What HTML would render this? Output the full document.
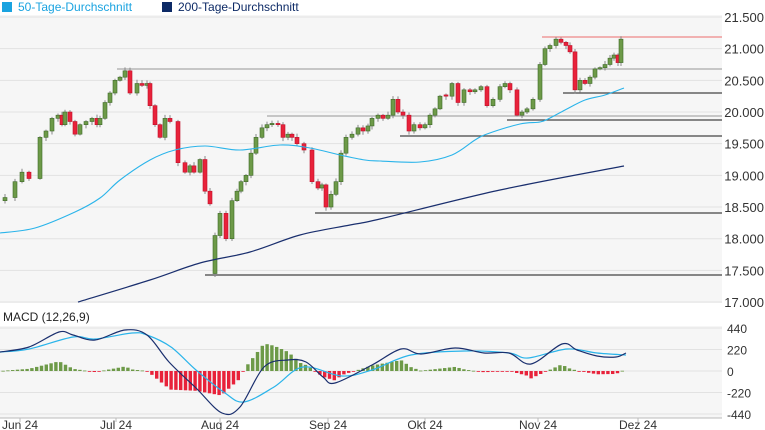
<!DOCTYPE html>
<html><head><meta charset="utf-8"><style>
body{margin:0;background:#fff;font-family:"Liberation Sans",sans-serif}
svg{display:block}
text{font-family:"Liberation Sans",sans-serif}
</style></head><body>
<svg id="s" width="765" height="430" xmlns="http://www.w3.org/2000/svg"></svg>
<script>
const S=document.getElementById('s');let h='';
const Y=v=>17+(21500-v)/500*31.67;
h+='<rect x="0" y="15" width="722" height="288" fill="#f6f6f6"/>';
h+='<rect x="0" y="326" width="722" height="92" fill="#f6f6f6"/>';
for(let v=17000;v<=21500;v+=500){const y=Y(v);h+=`<line x1="0" x2="722" y1="${y}" y2="${y}" stroke="#e2e2e2"/>`;
h+=`<text x="764" y="${y+5}" font-size="13" fill="#333" text-anchor="end">${(v/1000).toFixed(3)}</text>`;}
h+='<rect x="2" y="2" width="10" height="10" fill="#1aa3e0"/><text x="18" y="11" font-size="12" fill="#1aa3e0">50-Tage-Durchschnitt</text>';
h+='<rect x="162" y="2" width="10" height="10" fill="#0d2a66"/><text x="178" y="11" font-size="12" fill="#0d2a66">200-Tage-Durchschnitt</text>';
[[117,69,'#aaa'],[267,116,'#aaa'],[315,213,'#444'],[205,275,'#444'],[563,93,'#444'],[507,120,'#444'],[400,136,'#444'],[542,37,'#e88']].forEach(a=>h+=`<line x1="${a[0]}" x2="722" y1="${a[1]}" y2="${a[1]}" stroke="${a[2]}" stroke-width="1.2"/>`);
const pts=[[5,18.65],[15,18.9],[22,19.05],[29,18.95],[40,19.6],[46,19.7],[52,19.9],[58,19.95],[62,19.8],[65,20.0],[70,19.85],[75,19.65],[80,19.8],[86,19.85],[92,19.9],[97,19.8],[100,19.9],[105,20.15],[110,20.3],[115,20.5],[120,20.55],[125,20.65],[130,20.3],[137,20.45],[142,20.42],[147,20.45],[150,20.1],[155,19.8],[160,19.6],[165,19.9],[170,19.85],[178,19.2],[185,19.05],[190,19.15],[194,19.05],[200,19.25],[205,18.75],[210,18.55],[215,18.05,17.45],[220,18.4],[226,18.0],[232,18.6],[237,18.75],[241,18.9],[246,19.0],[251,19.35],[256,19.6],[262,19.75],[267,19.8],[272,19.82],[278,19.8],[283,19.6],[288,19.65],[292,19.6],[297,19.5],[304,19.4],[312,18.9],[318,18.8],[322,18.85],[326,18.5],[331,18.7],[336,18.9],[341,19.35],[346,19.6],[352,19.65],[358,19.75],[363,19.7],[368,19.78],[372,19.9],[378,19.95],[383,19.9],[388,19.95],[393,20.2],[398,20.0],[403,19.95],[409,19.7],[414,19.8],[420,19.75],[425,19.8],[430,19.95],[435,20.05],[440,20.25],[446,20.25],[452,20.45],[458,20.15],[464,20.35],[470,20.32],[475,20.35],[481,20.4],[487,20.1],[493,20.2],[500,20.4],[505,20.45],[510,20.35],[517,19.95],[522,20.0],[527,20.05],[533,20.2],[540,20.75],[545,21.0],[550,21.05],[556,21.15],[561,21.1],[566,21.05],[570,20.95],[575,20.35],[580,20.5],[585,20.45],[590,20.55],[595,20.68],[600,20.7],[605,20.75],[610,20.85],[614,20.9],[618,20.78],[621,21.15]];
let prev=18.6;
pts.forEach(([x,c,op])=>{c*=1000;let o=(op||prev)*1000;if(Math.abs(c-o)<15)o=c+20;const up=c>=o;const hi=Math.max(o,c)+20+((x*7)%40),lo=Math.min(o,c)-20-((x*13)%40);
h+=`<line x1="${x}" x2="${x}" y1="${Y(hi)}" y2="${Y(lo)}" stroke="#888" stroke-width="1"/>`;
const t=Y(Math.max(o,c)),b=Y(Math.min(o,c));
h+=`<rect x="${x-2}" y="${t}" width="4" height="${Math.max(1,b-t)}" fill="${up?'#6d9a48':'#e8223a'}" stroke="${up?'#3f6a2a':'#c0102a'}" stroke-width="0.6"/>`;prev=c/1000;});
const pl=(a,c,w)=>{let d=`M${a[0][0]},${a[0][1]}`;for(let i=0;i<a.length-1;i++){const p0=a[Math.max(0,i-1)],p1=a[i],p2=a[i+1],p3=a[Math.min(a.length-1,i+2)];
d+=` C${p1[0]+(p2[0]-p0[0])/6},${p1[1]+(p2[1]-p0[1])/6} ${p2[0]-(p3[0]-p1[0])/6},${p2[1]-(p3[1]-p1[1])/6} ${p2[0]},${p2[1]}`;}
h+=`<path fill="none" stroke="${c}" stroke-width="${w}" d="${d}"/>`;};
pl([[0,233],[35,228],[75,212],[100,198],[120,180],[150,160],[175,150],[205,146],[240,150],[280,145],[310,148],[340,155],[365,160],[380,161],[420,162],[452,155],[475,140],[487,134],[520,124],[540,122],[550,118],[565,110],[585,100],[605,95],[624,88]],'#2ab4ea',1.1);
pl([[78,302],[150,280],[200,263],[250,252],[300,235],[350,225],[380,219],[500,190],[624,166]],'#1a2f6e',1.2);
h+='<text x="3" y="321" font-size="12" fill="#222">MACD (12,26,9)</text>';
[[440,328],[220,349.5],[0,371],[-220,392.5],[-440,414]].forEach(a=>{h+=`<line x1="0" x2="722" y1="${a[1]}" y2="${a[1]}" stroke="#e2e2e2"/>`;h+=`<text x="727" y="${a[1]+5}" font-size="12" fill="#333">${a[0]}</text>`;});
const M=[[0,352],[29,347],[59,332],[73,335],[95,340],[125,330],[147,335],[169,362],[196,388],[222,413],[240,407],[264,367],[288,360],[306,362],[323,377],[335,383],[372,365],[401,349],[421,354],[455,348],[484,353],[509,353],[531,364],[562,344],[577,350],[597,356],[616,357],[626,353]];
const G=[[0,352],[29,349],[73,337],[95,339],[132,333],[147,335],[171,347],[196,370],[225,393],[244,402],[274,387],[303,367],[342,376],[372,370],[411,355],[465,351],[509,353],[528,358],[567,349],[597,353],[626,355]];
const ip=(a,x)=>{for(let i=1;i<a.length;i++)if(x<=a[i][0]){const t=(x-a[i-1][0])/(a[i][0]-a[i-1][0]);return a[i-1][1]+t*(a[i][1]-a[i-1][1]);}return a[a.length-1][1];};
for(let x=3;x<=626;x+=4.8){const d=(ip(G,x)-ip(M,x))*1.1;const y=d>0?371-d:371;h+=`<rect x="${x-1.6}" y="${y}" width="3.4" height="${Math.max(0.8,Math.abs(d))}" fill="${d>0?'#6d9a48':'#e8223a'}"/>`;}
pl(G,'#2ab4ea',1.2);pl(M,'#1a2f6e',1.2);
h+='<line x1="0" x2="722" y1="418" y2="418" stroke="#bbb"/>';
[['Jun 24',20],['Jul 24',116],['Aug 24',220],['Sep 24',328],['Okt 24',425],['Nov 24',538],['Dez 24',638]].forEach(a=>{h+=`<line x1="${a[1]}" x2="${a[1]}" y1="418" y2="422" stroke="#bbb"/><text x="${a[1]}" y="429" font-size="12" fill="#333" text-anchor="middle">${a[0]}</text>`;});
S.innerHTML=h;
</script>
</body></html>
